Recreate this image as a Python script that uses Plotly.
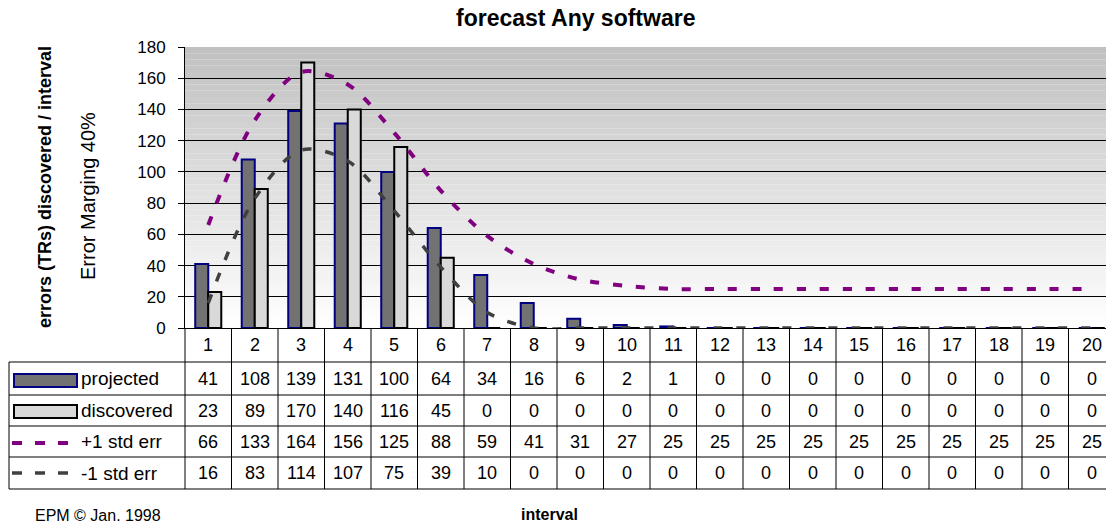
import plotly.graph_objects as go

# Interval forecast data
intervals = list(range(1, 21))
projected = [41, 108, 139, 131, 100, 64, 34, 16, 6, 2, 1, 0, 0, 0, 0, 0, 0, 0, 0, 0]
discovered = [23, 89, 170, 140, 116, 45, 0, 0, 0, 0, 0, 0, 0, 0, 0, 0, 0, 0, 0, 0]
plus_std = [66, 133, 164, 156, 125, 88, 59, 41, 31, 27, 25, 25, 25, 25, 25, 25, 25, 25, 25, 25]
minus_std = [16, 83, 114, 107, 75, 39, 10, 0, 0, 0, 0, 0, 0, 0, 0, 0, 0, 0, 0, 0]
row_names = ["projected", "discovered", "+1 std err", "-1 std err"]
y_ticks = list(range(0, 181, 20))

FONT = "Arial, Liberation Sans, sans-serif"
W_FIG, H_FIG = 1106, 526
PL, PR, PT, PB = 185, 1106, 47, 328          # plot area in pixels
CAT_W = 46.5                                 # pixel width of one interval
X0 = 0.5
X1 = X0 + (PR - PL) / CAT_W


def px(x):
    return (x - PL) / (PR - PL)


def py(y):
    return (PB - y) / (PB - PT)


def cat_px(v):
    return PL + (v - X0) * CAT_W


def text_at(x, y, text, size, xref="paper", xanchor="center", angle=0):
    return dict(x=x, xref=xref, y=y, yref="paper", text=text, showarrow=False,
                xanchor=xanchor, yanchor="middle", textangle=angle,
                font=dict(family=FONT, size=size, color="black"))


fig = go.Figure()

fig.add_trace(go.Bar(
    x=intervals, y=projected, name=row_names[0],
    marker=dict(color="#727272", line=dict(color="#000080", width=2)),
))
fig.add_trace(go.Bar(
    x=intervals, y=discovered, name=row_names[1],
    marker=dict(color="#d9d9d9", line=dict(color="#000000", width=2)),
))
fig.add_trace(go.Scatter(
    x=intervals, y=plus_std, name=row_names[2], mode="lines",
    line=dict(color="#800080", width=4, dash="9px,14px", shape="spline", smoothing=0.9),
))
fig.add_trace(go.Scatter(
    x=intervals, y=minus_std, name=row_names[3], mode="lines",
    line=dict(color="#404040", width=3.5, dash="9px,14px", shape="spline", smoothing=0.9),
))

shapes = []
# plot-area background: grey at the top fading to white at the bottom
N = 45
for i in range(N):
    t = (i + 0.5) / N
    g = int(round(255 - 63 * t))
    shapes.append(dict(
        type="rect", xref="paper", yref="paper",
        x0=0, x1=1, y0=i / N, y1=(i + 1) / N,
        fillcolor=f"rgb({g},{g},{g})", line=dict(width=0), layer="below",
    ))

# data table grid
row_lines = [362, 395, 426, 457, 489]
for yl in row_lines:
    shapes.append(dict(type="line", xref="paper", yref="paper",
                       x0=px(9), x1=px(PR), y0=py(yl), y1=py(yl),
                       line=dict(color="black", width=1)))
shapes.append(dict(type="line", xref="paper", yref="paper",
                   x0=px(9), x1=px(9), y0=py(362), y1=py(489),
                   line=dict(color="black", width=1)))
for k in range(0, 21):
    xp = cat_px(k + 0.5)
    if xp > PR:
        continue
    shapes.append(dict(type="line", xref="paper", yref="paper",
                       x0=px(xp), x1=px(xp), y0=py(PB), y1=py(489),
                       line=dict(color="black", width=1)))

# legend keys inside the table
shapes.append(dict(type="rect", xref="paper", yref="paper",
                   x0=px(14), x1=px(77), y0=py(387), y1=py(374),
                   fillcolor="#727272", line=dict(color="#000080", width=2)))
shapes.append(dict(type="rect", xref="paper", yref="paper",
                   x0=px(14), x1=px(77), y0=py(418), y1=py(405),
                   fillcolor="#d9d9d9", line=dict(color="#000000", width=2)))
for yk, col, wd in [(443, "#800080", 4), (473, "#404040", 3.5)]:
    shapes.append(dict(type="line", xref="paper", yref="paper",
                       x0=px(12), x1=px(70), y0=py(yk), y1=py(yk),
                       line=dict(color=col, width=wd, dash="10px,13px")))

annotations = []
row_centers = [378.5, 410.5, 441.5, 473]
header_center = 345
for v in intervals:
    annotations.append(text_at(v, py(header_center), str(v), 18, xref="x"))
for row, yc in zip([projected, discovered, plus_std, minus_std], row_centers):
    for v, val in zip(intervals, row):
        annotations.append(text_at(v, py(yc), str(val), 18, xref="x"))
for name, yc in zip(row_names, row_centers):
    annotations.append(text_at(px(79), py(yc), name, 19, xanchor="left"))

# titles and footer
annotations.append(text_at(px(575), py(18), "<b>forecast Any software</b>", 23))
annotations.append(text_at(px(45), py(187), "<b>errors (TRs) discovered / interval</b>", 18, angle=-90))
annotations.append(text_at(px(88), py(196), "Error Marging 40%", 20, angle=-90))
annotations.append(text_at(px(549), py(514), "<b>interval</b>", 16))
annotations.append(text_at(px(33), py(515), "EPM © Jan. 1998", 16, xanchor="left"))

fig.update_layout(
    width=W_FIG, height=H_FIG,
    margin=dict(l=PL, r=W_FIG - PR, t=PT, b=H_FIG - PB, pad=0),
    paper_bgcolor="white", plot_bgcolor="white",
    barmode="group", bargap=0.44, bargroupgap=0,
    showlegend=False,
    shapes=shapes, annotations=annotations,
    xaxis=dict(range=[X0, X1], showticklabels=False, ticks="", showgrid=False,
               zeroline=False, showline=True, linecolor="black", linewidth=1),
    yaxis=dict(range=[0, 180], tickvals=y_ticks, ticks="outside", ticklen=6,
               tickcolor="black", showline=True, linecolor="black", linewidth=1,
               showgrid=True, gridcolor="black", gridwidth=1, zeroline=False,
               ticklabelstandoff=9,
               tickfont=dict(family=FONT, size=17, color="black")),
    font=dict(family=FONT, color="black"),
)

fig.write_html("out.html")
